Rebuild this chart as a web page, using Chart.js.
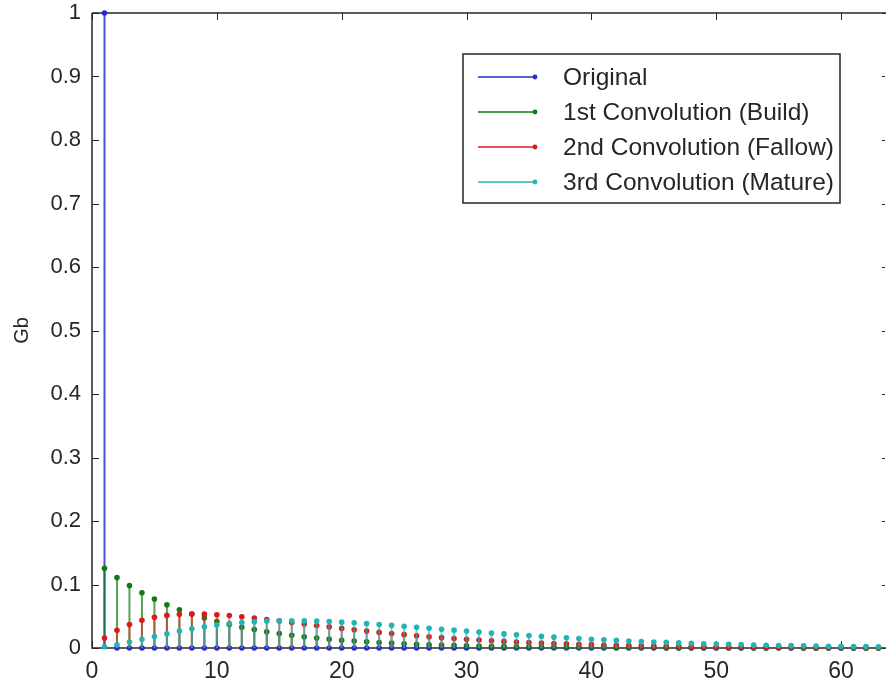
<!DOCTYPE html>
<html>
<head>
<meta charset="utf-8">
<script src="https://cdn.jsdelivr.net/npm/chart.js@4.4.1/dist/chart.umd.min.js"></script>
<style>
html, body { margin: 0; padding: 0; background: #fff; }
</style>
</head>
<body>
<canvas id="chart" width="890" height="687"></canvas>
<script>
// Sample index (lag)
const lags = [1, 2, 3, 4, 5, 6, 7, 8, 9, 10, 11, 12, 13, 14, 15, 16, 17, 18, 19, 20,
    21, 22, 23, 24, 25, 26, 27, 28, 29, 30, 31, 32, 33, 34, 35, 36, 37, 38, 39, 40,
    41, 42, 43, 44, 45, 46, 47, 48, 49, 50, 51, 52, 53, 54, 55, 56, 57, 58, 59, 60,
    61, 62, 63];

// Series values
const original = [1, 0, 0, 0, 0, 0, 0, 0, 0, 0, 0, 0, 0, 0, 0, 0, 0, 0, 0, 0,
    0, 0, 0, 0, 0, 0, 0, 0, 0, 0, 0, 0, 0, 0, 0, 0, 0, 0, 0, 0,
    0, 0, 0, 0, 0, 0, 0, 0, 0, 0, 0, 0, 0, 0, 0, 0, 0, 0, 0, 0,
    0, 0, 0];

const build = [0.1255, 0.1111, 0.0983, 0.0870, 0.0770, 0.0681, 0.0603, 0.0534, 0.0472, 0.0418,
    0.0370, 0.0327, 0.0290, 0.0256, 0.0227, 0.0201, 0.0178, 0.0157, 0.0139, 0.0123,
    0.0109, 0.0097, 0.0085, 0.0076, 0.0067, 0.0059, 0.0052, 0.0046, 0.0041, 0.0036,
    0.0032, 0.0028, 0.0025, 0.0022, 0.0020, 0.0017, 0.0015, 0.0014, 0.0012, 0.0011,
    0.0009, 0.0008, 0.0007, 0.0007, 0.0006, 0.0005, 0.0005, 0.0004, 0.0004, 0.0003,
    0.0003, 0.0003, 0.0002, 0.0002, 0.0002, 0.0002, 0.0001, 0.0001, 0.0001, 0.0001,
    0.0001, 0.0001, 0.0001];

const fallow = [0.0158, 0.0279, 0.0370, 0.0437, 0.0483, 0.0513, 0.0530, 0.0536, 0.0533, 0.0524,
    0.0511, 0.0493, 0.0473, 0.0450, 0.0427, 0.0403, 0.0379, 0.0355, 0.0332, 0.0309,
    0.0287, 0.0266, 0.0246, 0.0228, 0.0210, 0.0193, 0.0177, 0.0163, 0.0149, 0.0137,
    0.0125, 0.0114, 0.0104, 0.0095, 0.0087, 0.0079, 0.0072, 0.0065, 0.0059, 0.0054,
    0.0048, 0.0044, 0.0040, 0.0036, 0.0033, 0.0030, 0.0027, 0.0024, 0.0021, 0.0019,
    0.0017, 0.0016, 0.0014, 0.0013, 0.0011, 0.0010, 0.0009, 0.0008, 0.0007, 0.0007,
    0.0006, 0.0005, 0.0005];

const mature = [0.0020, 0.0052, 0.0093, 0.0137, 0.0182, 0.0225, 0.0266, 0.0303, 0.0335, 0.0362,
    0.0385, 0.0402, 0.0415, 0.0424, 0.0429, 0.0430, 0.0428, 0.0424, 0.0417, 0.0407,
    0.0397, 0.0385, 0.0371, 0.0357, 0.0342, 0.0327, 0.0312, 0.0296, 0.0281, 0.0266,
    0.0251, 0.0236, 0.0222, 0.0208, 0.0196, 0.0183, 0.0171, 0.0160, 0.0148, 0.0138,
    0.0128, 0.0120, 0.0110, 0.0102, 0.0094, 0.0088, 0.0080, 0.0074, 0.0068, 0.0063,
    0.0058, 0.0054, 0.0048, 0.0044, 0.0040, 0.0037, 0.0034, 0.0031, 0.0028, 0.0026,
    0.0024, 0.0022, 0.0020];

const seriesNames = ['Original', '1st Convolution (Build)', '2nd Convolution (Fallow)', '3rd Convolution (Mature)'];
const seriesData = [original, build, fallow, mature];
const markerColors = ['#2a2ad0', '#137a13', '#dc1a1a', '#22b4b4'];
const stemColors = ['rgba(50,50,215,0.85)', 'rgba(10,125,10,0.7)', 'rgba(230,40,40,0.6)', 'rgba(20,185,185,0.6)'];

const FONT = "'Liberation Sans', Arial, sans-serif";
const TEXT_COLOR = '#262626';

// Stems: vertical line from baseline to each point, drawn just before that dataset's markers
const stemPlugin = {
    id: 'stems',
    beforeDatasetDraw(chart, args) {
        const ctx = chart.ctx;
        const y0 = chart.scales.y.getPixelForValue(0);
        const ds = chart.data.datasets[args.index];
        ctx.save();
        ctx.strokeStyle = ds.stemColor;
        ctx.lineWidth = 2;
        ctx.beginPath();
        args.meta.data.forEach(pt => {
            ctx.moveTo(pt.x, y0);
            ctx.lineTo(pt.x, pt.y);
        });
        ctx.stroke();
        ctx.restore();
    }
};

// MATLAB-style box with inward ticks
const framePlugin = {
    id: 'frame',
    beforeDatasetsDraw(chart) {
        const ctx = chart.ctx;
        const area = chart.chartArea;
        const xs = chart.scales.x;
        const ys = chart.scales.y;
        ctx.save();
        ctx.strokeStyle = TEXT_COLOR;
        ctx.lineWidth = 1.5;
        ctx.beginPath();
        ctx.moveTo(area.left, area.top);
        ctx.lineTo(area.left, area.bottom);
        ctx.lineTo(area.right, area.bottom);
        ctx.moveTo(area.left, area.top);
        ctx.lineTo(area.right, area.top);
        ctx.stroke();

        ctx.lineWidth = 1;
        ctx.beginPath();
        ys.ticks.forEach(t => {
            const y = Math.round(ys.getPixelForValue(t.value)) + 0.5;
            ctx.moveTo(area.left, y);
            ctx.lineTo(area.left + 7, y);
            ctx.moveTo(area.right - 1, y);
            ctx.lineTo(area.right - 4, y);
        });
        xs.ticks.forEach(t => {
            const x = Math.round(xs.getPixelForValue(t.value)) + 0.5;
            ctx.moveTo(x, area.bottom);
            ctx.lineTo(x, area.bottom - 7);
            ctx.moveTo(x, area.top);
            ctx.lineTo(x, area.top + 7);
        });
        ctx.stroke();
        ctx.restore();
    }
};

// Legend box in the upper right
const legendPlugin = {
    id: 'stemLegend',
    afterDraw(chart) {
        const ctx = chart.ctx;
        const box = { left: 463, top: 54, right: 840, bottom: 203 };
        const rowH = 35;
        ctx.save();
        ctx.fillStyle = '#fff';
        ctx.fillRect(box.left, box.top, box.right - box.left, box.bottom - box.top);
        ctx.strokeStyle = TEXT_COLOR;
        ctx.lineWidth = 1.5;
        ctx.strokeRect(box.left, box.top, box.right - box.left, box.bottom - box.top);
        ctx.font = '24.5px ' + FONT;
        ctx.textBaseline = 'middle';
        chart.data.datasets.forEach((ds, i) => {
            const y = box.top + 23 + i * rowH;
            ctx.strokeStyle = ds.pointBackgroundColor;
            ctx.lineWidth = 1.5;
            ctx.beginPath();
            ctx.moveTo(478, y);
            ctx.lineTo(535, y);
            ctx.stroke();
            ctx.fillStyle = ds.pointBackgroundColor;
            ctx.beginPath();
            ctx.arc(535, y, 2.4, 0, Math.PI * 2);
            ctx.fill();
            ctx.fillStyle = TEXT_COLOR;
            ctx.fillText(ds.label, 563, y + 1);
        });
        ctx.restore();
    }
};

const datasets = seriesNames.map((name, i) => ({
    label: name,
    data: lags.map((x, k) => ({ x: x, y: seriesData[i][k] })),
    showLine: false,
    pointRadius: 2.8,
    pointBorderWidth: 0,
    pointBackgroundColor: markerColors[i],
    pointBorderColor: markerColors[i],
    stemColor: stemColors[i],
    clip: false,
    order: seriesNames.length - i
}));

new Chart(document.getElementById('chart'), {
    type: 'scatter',
    data: { datasets: datasets },
    options: {
        responsive: false,
        animation: false,
        layout: { padding: { top: 13, right: 0, left: 0, bottom: 0 } },
        plugins: {
            legend: { display: false },
            tooltip: { enabled: false }
        },
        scales: {
            x: {
                type: 'linear',
                min: 0,
                max: 63.6,
                grid: { display: false, drawTicks: false },
                border: { display: false },
                ticks: {
                    stepSize: 10,
                    includeBounds: false,
                    padding: 10,
                    color: TEXT_COLOR,
                    font: { family: FONT, size: 23 }
                },
                afterFit(scale) {
                    scale.height = 39;
                    scale.paddingLeft = 0;
                    scale.paddingRight = 0;
                }
            },
            y: {
                type: 'linear',
                min: 0,
                max: 1,
                grid: { display: false, drawTicks: false },
                border: { display: false },
                ticks: {
                    stepSize: 0.1,
                    padding: 11,
                    color: TEXT_COLOR,
                    font: { family: FONT, size: 22 },
                    callback: v => String(+v.toFixed(1))
                },
                title: {
                    display: true,
                    text: 'Gb',
                    color: TEXT_COLOR,
                    font: { family: FONT, size: 20 },
                    padding: { top: 10, bottom: 0 }
                },
                afterFit(scale) {
                    scale.width = 92;
                    scale.paddingTop = 0;
                    scale.paddingBottom = 0;
                }
            }
        }
    },
    plugins: [stemPlugin, framePlugin, legendPlugin]
});
</script>
</body>
</html>
